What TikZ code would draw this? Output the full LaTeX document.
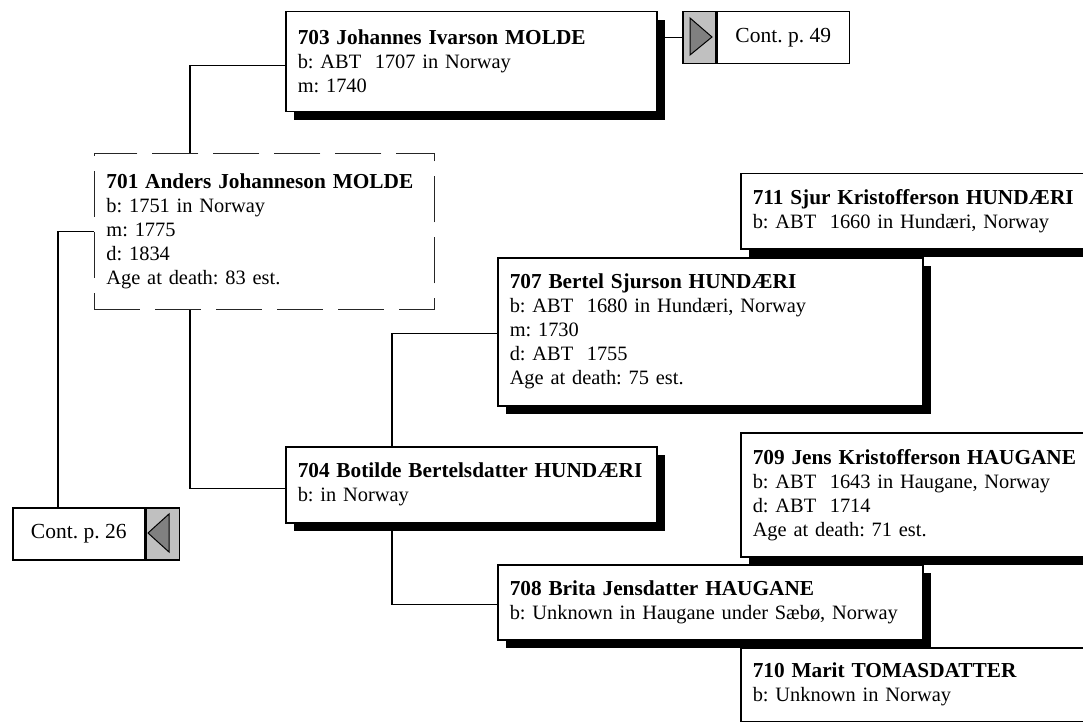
\documentclass[tikz,border=0pt]{standalone}
\usepackage{fontspec}
\setmainfont{Liberation Serif}
\usetikzlibrary{shadows}
\newcommand{\boxfont}{\fontsize{20.4}{24}\selectfont\frenchspacing}
\newcommand{\contfont}{\fontsize{21.5}{24}\selectfont\frenchspacing}
\newcommand{\pname}[1]{{\fontsize{21.3}{24}\selectfont\bfseries #1}}
\definecolor{tabgray}{RGB}{192,192,192}
\definecolor{trigray}{RGB}{128,128,128}
\tikzset{
  person/.style={draw, line width=1.5pt, fill=white, anchor=north west, align=left,
    inner xsep=12pt, inner ysep=0pt, font=\boxfont,
    drop shadow={shadow xshift=8pt, shadow yshift=-8pt, fill=black, opacity=1}},
  dashbox/.style={draw=black!85, line width=0.9pt, dash pattern=on 46pt off 15pt,
    fill=white, anchor=north west, align=left, inner xsep=12pt, inner ysep=0pt, font=\boxfont},
  contbox/.style={draw, line width=1.5pt, fill=white, inner sep=0pt, font=\contfont,
    minimum width=132pt, minimum height=52pt},
  tabbox/.style={draw, line width=1.5pt, fill=tabgray, inner sep=0pt,
    minimum width=33pt, minimum height=52pt},
  tri/.style={draw, line width=1pt, fill=trigray},
  link/.style={line width=1.3pt},
}
\begin{document}
\begin{tikzpicture}[x=1pt,y=-1pt]
\useasboundingbox (0,0) rectangle (1083,722);
\clip (0,0) rectangle (1083,722);
% parents of 701
\node[person, text width=347pt, minimum height=100pt] (p703) at (285,11)
  {\pname{703 Johannes Ivarson MOLDE}\\b: ABT\ \ 1707 in Norway\\m: 1740};
\node[tabbox, anchor=north west] (tab49) at (682,11) {};
\node[contbox, anchor=west] (cont49) at (tab49.east) {Cont. p. 49};
\draw[tri] (690,18) -- (690,55) -- (712,37) -- cycle;
\node[dashbox, text width=316pt, minimum height=156pt] (p701) at (94,153)
  {\pname{701 Anders Johanneson MOLDE}\\b: 1751 in Norway\\m: 1775\\d: 1834\\Age at death: 83 est.};
\node[contbox, anchor=north west] (cont26) at (12,507) {Cont. p. 26};
\node[tabbox, anchor=west] (tab26) at (cont26.east) {};
\draw[tri] (169,514) -- (169,552) -- (148,533) -- cycle;
% right column
\node[person, text width=336pt, minimum height=75pt] (p711) at (740,173)
  {\pname{711 Sjur Kristofferson HUNDÆRI}\\b: ABT\ \ 1660 in Hundæri, Norway};
\node[person, text width=401pt, minimum height=148pt] (p707) at (497,257)
  {\pname{707 Bertel Sjurson HUNDÆRI}\\b: ABT\ \ 1680 in Hundæri, Norway\\m: 1730\\d: ABT\ \ 1755\\Age at death: 75 est.};
\node[person, text width=336pt, minimum height=124pt] (p709) at (740,432)
  {\pname{709 Jens Kristofferson HAUGANE}\\b: ABT\ \ 1643 in Haugane, Norway\\d: ABT\ \ 1714\\Age at death: 71 est.};
\node[person, text width=336pt, minimum height=74pt] (p710) at (740,647)
  {\pname{710 Marit TOMASDATTER}\\b: Unknown in Norway};
\node[person, text width=401pt, minimum height=75pt] (p708) at (497,564)
  {\pname{708 Brita Jensdatter HAUGANE}\\\mbox{b: Unknown in Haugane under Sæbø, Norway}};
\node[person, text width=347pt, minimum height=76pt] (p704) at (285,446)
  {\pname{704 Botilde Bertelsdatter HUNDÆRI}\\b: in Norway};
% links
\draw[link] ([yshift=-4pt]p703.west) -| ([xshift=96pt]p701.north west);
\draw[link] (p703.east |- tab49.west) -- (tab49.west);
\draw[link] (p701.west) -| ([xshift=46pt]cont26.north west);
\draw[link] ([xshift=96pt]p701.south west) |- ([yshift=-4pt]p704.west);
\draw[link] ([xshift=107pt]p704.north west) |- ([yshift=-2pt]p707.west);
\draw[link] ([xshift=107pt]p704.south west) |- ([yshift=-2pt]p708.west);
\end{tikzpicture}
\end{document}
